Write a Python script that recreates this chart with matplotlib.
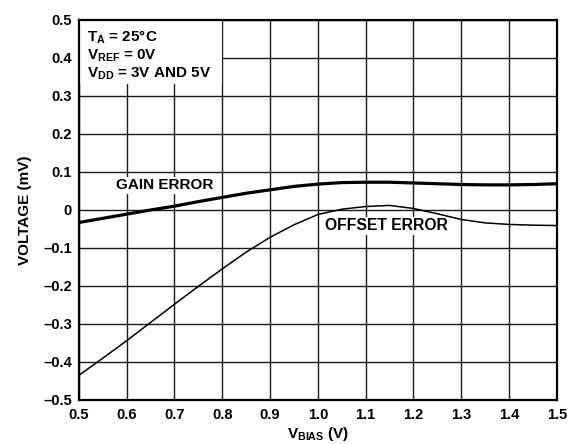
import matplotlib
matplotlib.use("Agg")
import matplotlib.pyplot as plt
from matplotlib.patches import Rectangle

# Font setup: bold Arial-like look everywhere, including subscripts.
plt.rcParams["font.family"] = ["Liberation Sans", "DejaVu Sans"]
plt.rcParams["font.weight"] = "bold"
plt.rcParams["mathtext.fontset"] = "custom"
plt.rcParams["mathtext.rm"] = "Liberation Sans:bold"
plt.rcParams["mathtext.it"] = "Liberation Sans:bold"
plt.rcParams["mathtext.bf"] = "Liberation Sans:bold"

# Bias voltage (V) sampled along the curves.
vbias = [0.50, 0.55, 0.60, 0.65, 0.70, 0.75, 0.80, 0.85, 0.90, 0.95, 1.00,
         1.05, 1.10, 1.15, 1.20, 1.25, 1.30, 1.35, 1.40, 1.45, 1.50]

# Gain error (mV), thick curve.
gain_error = [-0.033, -0.022, -0.011, 0.000, 0.010, 0.022, 0.033, 0.044, 0.053,
              0.062, 0.068, 0.072, 0.073, 0.073, 0.071, 0.069, 0.067, 0.066,
              0.066, 0.067, 0.069]

# Offset error (mV), thin curve.
offset_error = [-0.435, -0.390, -0.344, -0.296, -0.248, -0.201, -0.155, -0.111,
                -0.072, -0.039, -0.012, 0.002, 0.009, 0.012, 0.004, -0.010,
                -0.025, -0.034, -0.038, -0.040, -0.041]

x_ticks = [0.5, 0.6, 0.7, 0.8, 0.9, 1.0, 1.1, 1.2, 1.3, 1.4, 1.5]
x_tick_labels = ["0.5", "0.6", "0.7", "0.8", "0.9", "1.0", "1.1", "1.2", "1.3", "1.4", "1.5"]
y_ticks = [-0.5, -0.4, -0.3, -0.2, -0.1, 0, 0.1, 0.2, 0.3, 0.4, 0.5]
y_tick_labels = ["\u20130.5", "\u20130.4", "\u20130.3", "\u20130.2", "\u20130.1", "0",
                 "0.1", "0.2", "0.3", "0.4", "0.5"]

fig = plt.figure(figsize=(5.8, 4.44), dpi=100)
ax = fig.add_axes([0.136, 0.0991, 0.824, 0.856])

# The two curves.
ax.plot(vbias, gain_error, color="black", linewidth=2.3, zorder=6)
ax.plot(vbias, offset_error, color="black", linewidth=1.1, zorder=6)

ax.set_xlim(0.5, 1.5)
ax.set_ylim(-0.5, 0.5)
ax.set_xticks(x_ticks)
ax.set_xticklabels(x_tick_labels)
ax.set_yticks(y_ticks)
ax.set_yticklabels(y_tick_labels)
ax.tick_params(axis="x", length=0, labelsize=10.5, pad=6)
ax.tick_params(axis="y", length=0, labelsize=10.5, pad=5)
for lab in ax.get_xticklabels() + ax.get_yticklabels():
    lab.set_fontweight("bold")

ax.grid(True, color="#1a1a1a", linewidth=1.0, zorder=1)
ax.set_axisbelow(True)
for spine in ax.spines.values():
    spine.set_linewidth(1.6)
    spine.set_zorder(7)

# White block behind the conditions text covers the grid.
ax.add_patch(Rectangle((0, 0.832), 0.3, 0.168, transform=ax.transAxes,
                       facecolor="white", edgecolor="none", zorder=2))
ax.text(0.017, 0.978, "T$_{A}$ = 25°C\nV$_{REF}$ = 0V\nV$_{DD}$ = 3V AND 5V",
        transform=ax.transAxes, ha="left", va="top", fontsize=11,
        fontweight="bold", linespacing=1.15, zorder=5)

# Curve labels, each on a white patch that breaks the grid.
ax.text(0.578, 0.065, "GAIN ERROR", fontsize=11, fontweight="bold",
        ha="left", va="center", zorder=5,
        bbox=dict(facecolor="white", edgecolor="none", pad=1))
ax.text(1.016, -0.042, "OFFSET ERROR", fontsize=11.3, fontweight="bold",
        ha="left", va="center", zorder=5,
        bbox=dict(facecolor="white", edgecolor="none", pad=1))

ax.set_ylabel("VOLTAGE (mV)", fontsize=11, fontweight="bold", labelpad=8)
ax.set_xlabel("V$_{BIAS}$ (V)", fontsize=11, fontweight="bold", labelpad=2)

fig.savefig("out.png", dpi=100)
plt.close(fig)
